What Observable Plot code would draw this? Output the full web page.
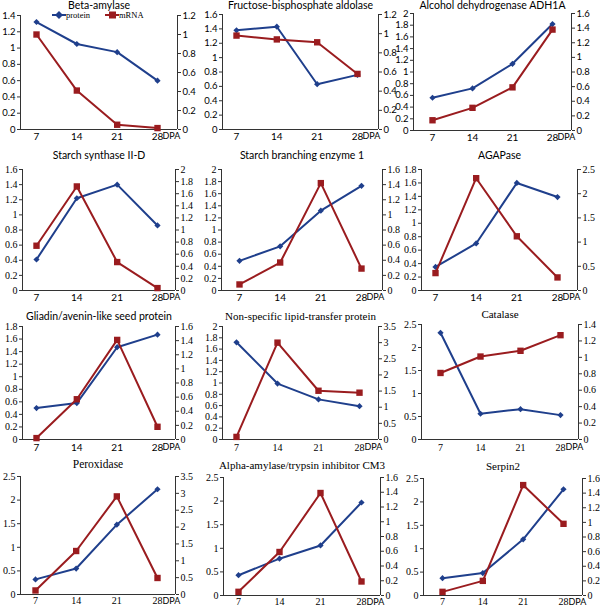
<!DOCTYPE html>
<html><head><meta charset="utf-8">
<script src="https://cdn.jsdelivr.net/npm/d3@7"></script>
<script src="https://cdn.jsdelivr.net/npm/@observablehq/plot@0.6"></script>
<style>
body{margin:0;background:#fff;}
#root{position:relative;width:600px;height:608px;overflow:hidden;background:#fff;}
#root svg{position:absolute;}
</style></head><body><div id="root"></div>
<script>
// ---- data ----
const dpa = [7, 14, 21, 28];
const titles = ["Beta-amylase","Fructose-bisphosphate aldolase","Alcohol dehydrogenase ADH1A",
  "Starch synthase II-D","Starch branching enzyme 1","AGAPase",
  "Gliadin/avenin-like seed protein","Non-specific lipid-transfer protein","Catalase",
  "Peroxidase","Alpha-amylase/trypsin inhibitor CM3","Serpin2"];
const proteinValues = [
  [1.32,1.05,0.95,0.60],
  [1.38,1.43,0.63,0.76],
  [0.56,0.72,1.14,1.82],
  [0.41,1.22,1.40,0.86],
  [0.49,0.73,1.32,1.73],
  [0.35,0.70,1.60,1.39],
  [0.50,0.58,1.47,1.67],
  [1.72,0.99,0.71,0.59],
  [2.32,0.56,0.66,0.53],
  [0.32,0.55,1.48,2.23],
  [0.43,0.78,1.06,1.97],
  [0.37,0.48,1.20,2.27]
];
const mrnaValues = [
  [1.00,0.41,0.05,0.015],
  [0.98,0.94,0.91,0.58],
  [0.14,0.31,0.59,1.38],
  [0.74,1.72,0.47,0.04],
  [0.08,0.37,1.42,0.29],
  [0.36,2.32,1.12,0.27],
  [0.02,0.57,1.41,0.18],
  [0.08,3.00,1.51,1.45],
  [0.81,1.01,1.08,1.27],
  [0.12,1.29,2.91,0.49],
  [0.05,0.59,1.39,0.19],
  [0.05,0.20,1.51,0.98]
];
const leftAxisMax  = [1.4,1.6,2,1.6,2,1.8,1.8,2,2.5,2.5,2.5,2.5];
const leftAxisStep = [0.2,0.2,0.2,0.2,0.2,0.2,0.2,0.2,0.5,0.5,0.5,0.5];
const rightAxisMax  = [1.2,1.2,1.6,2,1.6,2.5,1.6,3.5,1.4,3.5,1.6,1.6];
const rightAxisStep = [0.2,0.2,0.2,0.2,0.2,0.5,0.2,0.5,0.2,0.5,0.2,0.2];
const seriesNames = ["protein","mRNA"];

// ---- layout ----
const BLUE = "#1f3f8c", RED = "#9a1c1f";
const SANS = "Lato, 'Liberation Sans', sans-serif";
const SERIF = "'Liberation Serif', 'DejaVu Serif', serif";
// L,R: axis x; T,B: plot top/bottom; x7,x28: category positions; tdy: title offset
const layout = [
  {L:20, R:177, T:15, B:129, x7:36, x28:157, tdy:-10, tf:SANS, ts:10.5, yf:SANS, ys:9.5, xf:SANS, xp:3, ddy:3},
  {L:222,R:378, T:14, B:129, x7:236,x28:357, tdy:-9,  tf:SANS, ts:10.5, yf:SANS, ys:9.5, xf:SANS, xp:3, ddy:3},
  {L:413,R:571, T:13, B:130, x7:432,x28:552, tdy:-8,  tf:SANS, ts:10.5, yf:SANS, ys:9.5, xf:SANS, xp:3, ddy:3},
  {L:22, R:175, T:169,B:290, x7:36, x28:157, tdy:-14, tf:SANS, ts:10.5, yf:SERIF, ys:10, xf:SANS, xp:3, ddy:3},
  {L:221,R:382, T:169,B:290, x7:239,x28:361, tdy:-14, tf:SANS, ts:10.5, yf:SERIF, ys:10, xf:SANS, xp:3, ddy:3},
  {L:421,R:577, T:169,B:290, x7:435,x28:557, tdy:-14, tf:SANS, ts:10.5, yf:SERIF, ys:10, xf:SANS, xp:3, ddy:3},
  {L:22, R:175, T:326,B:439, x7:36, x28:157, tdy:-10, tf:SANS, ts:10.5, yf:SERIF, ys:10, xf:SANS, xp:4, ddy:4},
  {L:222,R:378, T:326,B:439, x7:236,x28:359, tdy:-10, tf:SERIF,ts:11,   yf:SERIF, ys:10, xf:SERIF, xp:4, ddy:4},
  {L:421,R:578, T:324,B:439, x7:440,x28:560, tdy:-10, tf:SERIF,ts:11,   yf:SERIF, ys:10, xf:SERIF, xp:4, ddy:4},
  {L:20, R:175, T:476,B:594, x7:35, x28:157, tdy:-12, tf:SERIF,ts:11.5, yf:SERIF, ys:10, xf:SERIF, xp:2, ddy:3},
  {L:223,R:380, T:477,B:595, x7:238,x28:361, tdy:-12, tf:SERIF,ts:11,   yf:SERIF, ys:10, xf:SERIF, xp:2, ddy:3},
  {L:423,R:582, T:478,B:595, x7:442,x28:563, tdy:-12, tf:SERIF,ts:11,   yf:SERIF, ys:10, xf:SERIF, xp:2, ddy:3}
];

const fmt = d => String(+d.toFixed(3));
const root = document.getElementById("root");

titles.forEach((title, i) => {
  const lay = layout[i];
  const mL = 34, mR = 34, mT = 24, mB = 22;
  const w = lay.R - lay.L, h = lay.B - lay.T;
  const s = 21 / (lay.x28 - lay.x7);
  const d0 = 7 - (lay.x7 - lay.L) * s, d1 = 28 + (lay.R - lay.x28) * s;
  const k = leftAxisMax[i] / rightAxisMax[i];
  const lticks = d3.range(0, leftAxisMax[i] + 1e-9, leftAxisStep[i]);
  const rticks = d3.range(0, rightAxisMax[i] + 1e-9, rightAxisStep[i]).map(t => t * k);
  const rows = dpa.map((d, j) => ({dpa: d, protein: proteinValues[i][j], mrna: mrnaValues[i][j] * k}));
  const svg = Plot.plot({
    width: w + mL + mR, height: h + mT + mB,
    marginLeft: mL, marginRight: mR, marginTop: mT, marginBottom: mB,
    x: {domain: [d0, d1]},
    y: {domain: [0, leftAxisMax[i]]},
    style: {background: "transparent", overflow: "visible", maxWidth: "none", color: "#000"},
    marks: [
      Plot.ruleY([0], {stroke: "#333", strokeWidth: 1}),
      Plot.ruleX([d0, d1], {stroke: "#333", strokeWidth: 1}),
      Plot.axisY(lticks, {anchor: "left", tickSize: 3, tickPadding: 2, tickFormat: fmt, label: null,
        fontFamily: lay.yf, fontSize: lay.ys, stroke: "#333"}),
      Plot.axisY(rticks, {anchor: "right", tickSize: 3, tickPadding: 2, tickFormat: d => fmt(d / k), label: null,
        fontFamily: lay.yf, fontSize: lay.ys, stroke: "#333"}),
      Plot.axisX(dpa, {anchor: "bottom", tickSize: 0, tickPadding: lay.xp, label: null,
        fontFamily: lay.xf, fontSize: 10}),
      Plot.text(["DPA"], {x: () => 28, frameAnchor: "bottom", dy: lay.ddy, dx: 5, lineAnchor: "top",
        textAnchor: "start", fontFamily: SANS, fontSize: 9, fill: "#000"}),
      Plot.text([title], {frameAnchor: "top", dy: lay.tdy, lineAnchor: "middle",
        fontFamily: lay.tf, fontSize: lay.ts, fill: "#000"}),
      Plot.line(rows, {x: "dpa", y: "protein", stroke: BLUE, strokeWidth: 2}),
      Plot.dot(rows, {x: "dpa", y: "protein", symbol: "diamond2", fill: BLUE, r: 2.8}),
      Plot.line(rows, {x: "dpa", y: "mrna", stroke: RED, strokeWidth: 2}),
      Plot.dot(rows, {x: "dpa", y: "mrna", symbol: "square", fill: RED, r: 3.6})
    ]
  });
  svg.style.left = (lay.L - mL) + "px";
  svg.style.top = (lay.T - mT) + "px";
  root.appendChild(svg);
});

// legend (first panel)
const lg = d3.select(root).append("svg").attr("width", 200).attr("height", 24)
  .style("left", "0px").style("top", "4px");
const items = [{x: 52, c: BLUE, sym: "d"}, {x: 105, c: RED, sym: "s"}];
items.forEach((it, j) => {
  const g = lg.append("g");
  g.append("line").attr("x1", it.x).attr("x2", it.x + 14).attr("y1", 11).attr("y2", 11)
    .attr("stroke", it.c).attr("stroke-width", 2);
  if (it.sym === "d") g.append("path").attr("d", d3.symbol(d3.symbolDiamond2, 40)()).attr("transform", `translate(${it.x + 7},11)`).attr("fill", it.c);
  else g.append("rect").attr("x", it.x + 4).attr("y", 7.5).attr("width", 7).attr("height", 7).attr("fill", it.c);
  g.append("text").attr("x", it.x + 14).attr("y", 11).attr("dy", "0.35em").attr("font-family", SERIF)
    .attr("font-size", 8.5).text(seriesNames[j]);
});
</script></body></html>
